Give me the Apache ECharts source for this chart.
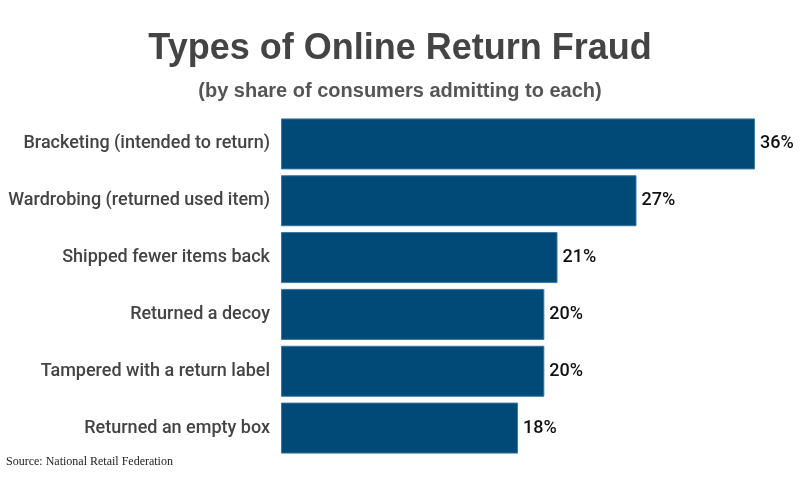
<!DOCTYPE html>
<html><head><meta charset="utf-8">
<script src="https://cdn.jsdelivr.net/npm/echarts@6/dist/echarts.min.js"></script>
<style>html,body{margin:0;padding:0;background:#fff}#c{width:800px;height:477px}</style>
</head><body><div id="c"></div>
<script>
const categories = ["Bracketing (intended to return)","Wardrobing (returned used item)","Shipped fewer items back","Returned a decoy","Tampered with a return label","Returned an empty box"];
const values = [36,27,21,20,20,18];
const chart = echarts.init(document.getElementById('c'));
chart.setOption({
  animation:false,
  title:[
    {text:"Types of Online Return Fraud",left:'center',top:26,textStyle:{fontFamily:'Liberation Sans',fontWeight:'bold',fontSize:36,color:'#444'}},
    {text:"(by share of consumers admitting to each)",left:'center',top:76,textStyle:{fontFamily:'Liberation Sans',fontWeight:'bold',fontSize:20,color:'#555'}},
    {text:"Source: National Retail Federation",left:1,top:451,textStyle:{fontFamily:'Liberation Serif',fontWeight:'normal',fontSize:12,color:'#222'}}
  ],
  grid:{left:281,right:45,top:115.5,bottom:20.5,containLabel:false},
  xAxis:{type:'value',min:0,max:36,show:false},
  yAxis:{type:'category',data:categories,inverse:true,axisLine:{show:false},axisTick:{show:false},
    axisLabel:{fontFamily:'Roboto',fontWeight:500,fontSize:18,color:'#444',margin:11,padding:[3,0,0,0]}},
  series:[{type:'bar',data:values,barWidth:51,
    itemStyle:{color:'#004a77',borderColor:'#3a76a0',borderWidth:1},
    label:{show:true,position:'right',distance:5,formatter:'{c}%',fontFamily:'Roboto',fontWeight:500,fontSize:18,color:'#111',padding:[3,0,0,0]}}]
});
</script></body></html>
